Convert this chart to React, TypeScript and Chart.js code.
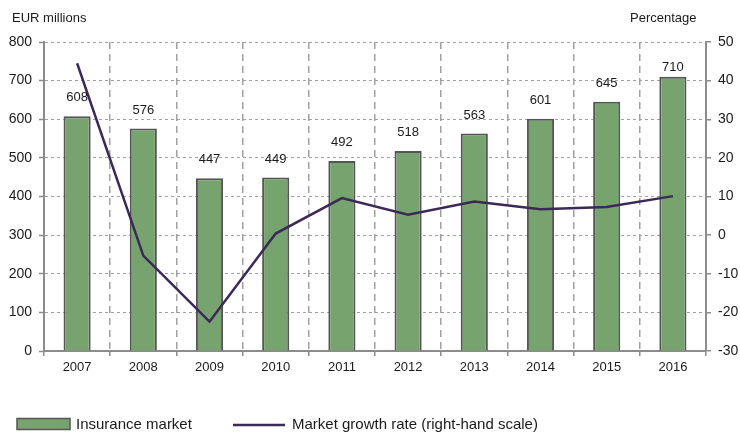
import React, { useEffect, useRef } from "react";
import { Chart, registerables } from "chart.js";

Chart.register(...registerables);

const years = ["2007", "2008", "2009", "2010", "2011", "2012", "2013", "2014", "2015", "2016"];
const insuranceMarket = [608, 576, 447, 449, 492, 518, 563, 601, 645, 710];
const growthRate = [44.5, -5.3, -22.4, 0.4, 9.6, 5.3, 8.7, 6.7, 7.3, 10.1];
const leftTitle = "EUR millions";
const rightTitle = "Percentage";
const barLabel = "Insurance market";
const lineLabel = "Market growth rate (right-hand scale)";

const FONT = "'Liberation Sans', Arial, sans-serif";
const BAR_FILL = "#77a36f";
const BAR_BORDER = "#555555";
const LINE_COLOR = "#3b2a56";
const GRID = "#a0a0a0";
const AXIS = "#8c8c8c";
const TEXT = "#1a1a1a";

const overlayPlugin = {
  id: "overlay",
  afterDatasetsDraw(chart: any) {
    const ctx = chart.ctx;
    const area = chart.chartArea;
    ctx.save();
    // data labels above bars
    const meta = chart.getDatasetMeta(1);
    ctx.font = `13px ${FONT}`;
    ctx.fillStyle = TEXT;
    ctx.textAlign = "center";
    ctx.textBaseline = "alphabetic";
    meta.data.forEach((bar: any, i: number) => {
      const y = Math.max(bar.y - 15, area.top + 29);
      ctx.fillText(String(insuranceMarket[i]), bar.x, y);
    });
    // axis titles
    ctx.textAlign = "left";
    ctx.fillText(leftTitle, 12, 22);
    ctx.fillText(rightTitle, 630, 22);
    // legend
    ctx.font = `15px ${FONT}`;
    ctx.fillStyle = BAR_FILL;
    ctx.fillRect(17, 418.5, 53, 11);
    ctx.strokeStyle = BAR_BORDER;
    ctx.lineWidth = 1.5;
    ctx.strokeRect(17, 418.5, 53, 11);
    ctx.fillStyle = TEXT;
    ctx.textBaseline = "middle";
    ctx.fillText(barLabel, 76, 425);
    ctx.strokeStyle = LINE_COLOR;
    ctx.lineWidth = 2.5;
    ctx.beginPath();
    ctx.moveTo(233, 425);
    ctx.lineTo(285, 425);
    ctx.stroke();
    ctx.fillText(lineLabel, 292, 425);
    ctx.restore();
  },
};

export default function App() {
  const ref = useRef<HTMLCanvasElement>(null);
  useEffect(() => {
    const chart = new Chart(ref.current as HTMLCanvasElement, {
      type: "bar",
      data: {
        labels: years,
        datasets: [
          {
            type: "line",
            label: lineLabel,
            data: growthRate,
            yAxisID: "y1",
            borderColor: LINE_COLOR,
            backgroundColor: LINE_COLOR,
            borderWidth: 2.5,
            pointRadius: 0,
            tension: 0,
            order: 0,
          } as any,
          {
            type: "bar",
            label: barLabel,
            data: insuranceMarket,
            yAxisID: "y",
            backgroundColor: BAR_FILL,
            borderColor: BAR_BORDER,
            borderWidth: 2,
            categoryPercentage: 1,
            barPercentage: 0.41,
            order: 1,
          } as any,
        ],
      },
      options: {
        responsive: false,
        animation: false,
        layout: { padding: { top: 42, left: 0, right: 0, bottom: 0 } },
        plugins: { legend: { display: false }, tooltip: { enabled: false } },
        scales: {
          x: {
            offset: true,
            grid: {
              offset: true,
              color: GRID,
              lineWidth: 1.5,
              tickLength: 5,
              tickColor: AXIS,
              tickWidth: 1.5,
              tickBorderDash: [1, 0],
            } as any,
            border: { display: true, color: AXIS, width: 2, dash: [7, 5] } as any,
            ticks: { color: TEXT, font: { family: FONT, size: 13 }, padding: 4 },
            afterFit(scale: any) {
              scale.height = 84;
            },
          },
          y: {
            position: "left",
            min: 0,
            max: 800,
            ticks: { stepSize: 100, color: TEXT, font: { family: FONT, size: 14 }, padding: 7 },
            grid: {
              color: GRID,
              lineWidth: 1,
              tickLength: 5,
              tickColor: AXIS,
              tickWidth: 1.5,
              tickBorderDash: [1, 0],
            } as any,
            border: { display: true, color: AXIS, width: 2, dash: [3, 3] } as any,
            afterFit(scale: any) {
              scale.width = 44;
            },
          },
          y1: {
            position: "right",
            min: -30,
            max: 50,
            ticks: { stepSize: 10, color: TEXT, font: { family: FONT, size: 14 }, padding: 7 },
            grid: {
              drawOnChartArea: false,
              tickLength: 5,
              color: AXIS,
              lineWidth: 1.5,
            },
            border: { display: true, color: AXIS, width: 2 },
            afterFit(scale: any) {
              scale.width = 34;
            },
          },
        },
      },
      plugins: [overlayPlugin],
    });
    return () => chart.destroy();
  }, []);
  return (
    <div style={{ position: "absolute", left: 0, top: 0, width: 740, height: 435, background: "#fff" }}>
      <canvas ref={ref} width={740} height={435} style={{ display: "block" }} />
    </div>
  );
}
